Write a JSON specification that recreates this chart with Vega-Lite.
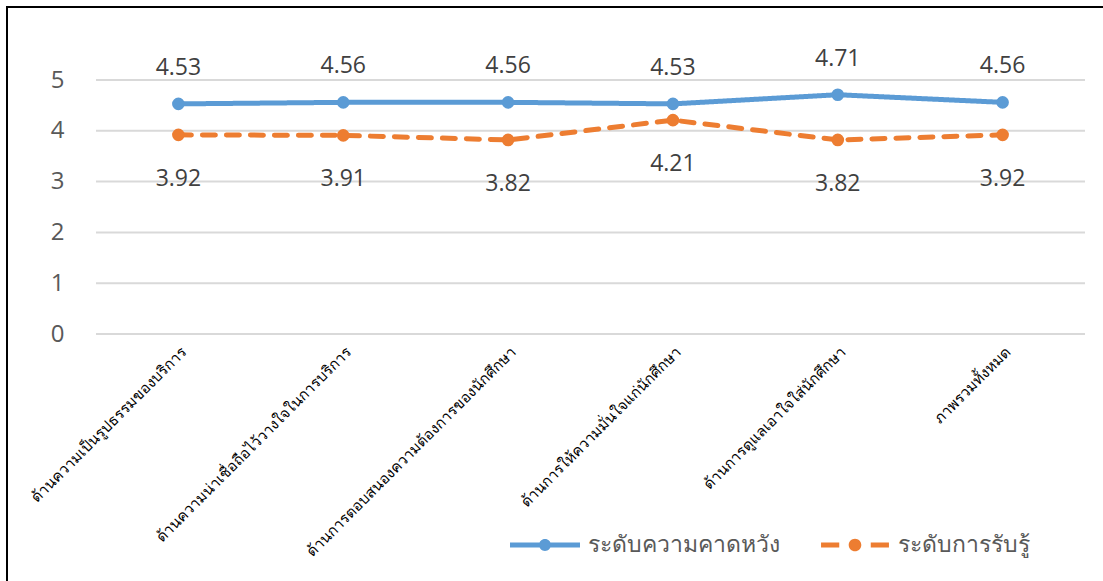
{
  "$schema": "https://vega.github.io/schema/vega-lite/v6.json",
  "autosize": {"type": "none"},
  "width": 1106,
  "height": 584,
  "padding": {"left": 7, "top": 7, "right": -10, "bottom": -10},
  "background": "white",
  "config": {
    "view": {"stroke": "black", "strokeWidth": 2},
    "font": "Noto Sans"
  },
  "datasets": {
    "scores": [
      {"aspect": "ด้านความเป็นรูปธรรมของบริการ", "series": "ระดับความคาดหวัง", "score": 4.53},
      {"aspect": "ด้านความน่าเชื่อถือไว้วางใจในการบริการ", "series": "ระดับความคาดหวัง", "score": 4.56},
      {"aspect": "ด้านการตอบสนองความต้องการของนักศึกษา", "series": "ระดับความคาดหวัง", "score": 4.56},
      {"aspect": "ด้านการให้ความมั่นใจแก่นักศึกษา", "series": "ระดับความคาดหวัง", "score": 4.53},
      {"aspect": "ด้านการดูแลเอาใจใส่นักศึกษา", "series": "ระดับความคาดหวัง", "score": 4.71},
      {"aspect": "ภาพรวมทั้งหมด", "series": "ระดับความคาดหวัง", "score": 4.56},
      {"aspect": "ด้านความเป็นรูปธรรมของบริการ", "series": "ระดับการรับรู้", "score": 3.92},
      {"aspect": "ด้านความน่าเชื่อถือไว้วางใจในการบริการ", "series": "ระดับการรับรู้", "score": 3.91},
      {"aspect": "ด้านการตอบสนองความต้องการของนักศึกษา", "series": "ระดับการรับรู้", "score": 3.82},
      {"aspect": "ด้านการให้ความมั่นใจแก่นักศึกษา", "series": "ระดับการรับรู้", "score": 4.21},
      {"aspect": "ด้านการดูแลเอาใจใส่นักศึกษา", "series": "ระดับการรับรู้", "score": 3.82},
      {"aspect": "ภาพรวมทั้งหมด", "series": "ระดับการรับรู้", "score": 3.92}
    ],
    "gridLevels": [
      {"level": 0}, {"level": 1}, {"level": 2}, {"level": 3}, {"level": 4}, {"level": 5}
    ]
  },
  "layer": [
    {
      "data": {"name": "gridLevels"},
      "mark": {"type": "rule", "color": "#d9d9d9", "strokeWidth": 2, "xOffset": -82.4, "x2Offset": 82.4},
      "encoding": {
        "x": {
          "datum": "ด้านความเป็นรูปธรรมของบริการ",
          "type": "nominal",
          "scale": {
            "type": "point",
            "domain": [
              "ด้านความเป็นรูปธรรมของบริการ",
              "ด้านความน่าเชื่อถือไว้วางใจในการบริการ",
              "ด้านการตอบสนองความต้องการของนักศึกษา",
              "ด้านการให้ความมั่นใจแก่นักศึกษา",
              "ด้านการดูแลเอาใจใส่นักศึกษา",
              "ภาพรวมทั้งหมด"
            ],
            "range": [171.4, 995.6],
            "padding": 0
          },
          "axis": {
            "orient": "bottom",
            "offset": -257,
            "title": null,
            "domain": false,
            "ticks": false,
            "grid": false,
            "labelAngle": -45,
            "labelAlign": "right",
            "labelBaseline": "top",
            "labelPadding": 10,
            "labelFont": "Loma, Tahoma, Noto Sans",
            "labelFontSize": 15,
            "labelColor": "#000000",
            "labelLimit": 400
          }
        },
        "x2": {"datum": "ภาพรวมทั้งหมด"},
        "y": {
          "field": "level",
          "type": "quantitative",
          "scale": {"domain": [0, 5], "range": [327, 73], "nice": false, "zero": false},
          "axis": {
            "values": [0, 1, 2, 3, 4, 5],
            "format": "d",
            "offset": -89,
            "title": null,
            "domain": false,
            "ticks": false,
            "grid": false,
            "labelPadding": 32,
            "labelFontSize": 24,
            "labelColor": "#595959",
            "labelFont": "Open Sans"
          }
        }
      }
    },
    {
      "data": {"name": "scores"},
      "mark": {"type": "line", "strokeWidth": 5, "strokeCap": "round"},
      "encoding": {
        "x": {"field": "aspect", "type": "nominal"},
        "y": {"field": "score", "type": "quantitative"},
        "color": {
          "field": "series",
          "type": "nominal",
          "scale": {"domain": ["ระดับความคาดหวัง", "ระดับการรับรู้"], "range": ["#5b9bd5", "#ed7d31"]},
          "legend": {
            "orient": "none",
            "legendX": 503,
            "legendY": 503,
            "direction": "horizontal",
            "title": null,
            "labelFontSize": 23,
            "labelColor": "#595959",
            "labelFont": "Open Sans",
            "symbolSize": 4900,
            "labelOffset": 8,
            "columnPadding": 40,
            "labelLimit": 400,
            "encode": {
              "symbols": {
                "update": {
                  "shape": {"signal": "datum.value === 'ระดับความคาดหวัง' ? 'M-1,-0.07 L1,-0.07 L1,0.07 L-1,0.07 Z M0.17,0 A0.17,0.17 0 1,1 -0.17,0 A0.17,0.17 0 1,1 0.17,0 Z' : 'M-0.97,-0.07 L-0.45,-0.07 L-0.45,0.07 L-0.97,0.07 Z M0.45,-0.07 L0.97,-0.07 L0.97,0.07 L0.45,0.07 Z M0.18,0 A0.18,0.18 0 1,1 -0.18,0 A0.18,0.18 0 1,1 0.18,0 Z'"},
                  "fill": {"signal": "datum.value === 'ระดับความคาดหวัง' ? '#5b9bd5' : '#ed7d31'"},
                  "strokeWidth": {"value": 0},
                  "opacity": {"value": 1}
                }
              }
            }
          }
        },
        "strokeDash": {
          "field": "series",
          "type": "nominal",
          "scale": {"domain": ["ระดับความคาดหวัง", "ระดับการรับรู้"], "range": [[1, 0], [13, 11]]},
          "legend": null
        }
      }
    },
    {
      "data": {"name": "scores"},
      "mark": {"type": "circle", "size": 160, "opacity": 1},
      "encoding": {
        "x": {"field": "aspect", "type": "nominal"},
        "y": {"field": "score", "type": "quantitative"},
        "color": {"field": "series", "type": "nominal"}
      }
    },
    {
      "data": {"name": "scores"},
      "transform": [{"filter": "datum.series === 'ระดับความคาดหวัง'"}],
      "mark": {"type": "text", "dy": -36, "fontSize": 23, "color": "#404040", "font": "Open Sans"},
      "encoding": {
        "x": {"field": "aspect", "type": "nominal"},
        "y": {"field": "score", "type": "quantitative"},
        "text": {"field": "score", "type": "quantitative", "format": ".2f"}
      }
    },
    {
      "data": {"name": "scores"},
      "transform": [{"filter": "datum.series === 'ระดับการรับรู้'"}],
      "mark": {"type": "text", "dy": 44, "fontSize": 23, "color": "#404040", "font": "Open Sans"},
      "encoding": {
        "x": {"field": "aspect", "type": "nominal"},
        "y": {"field": "score", "type": "quantitative"},
        "text": {"field": "score", "type": "quantitative", "format": ".2f"}
      }
    }
  ]
}
